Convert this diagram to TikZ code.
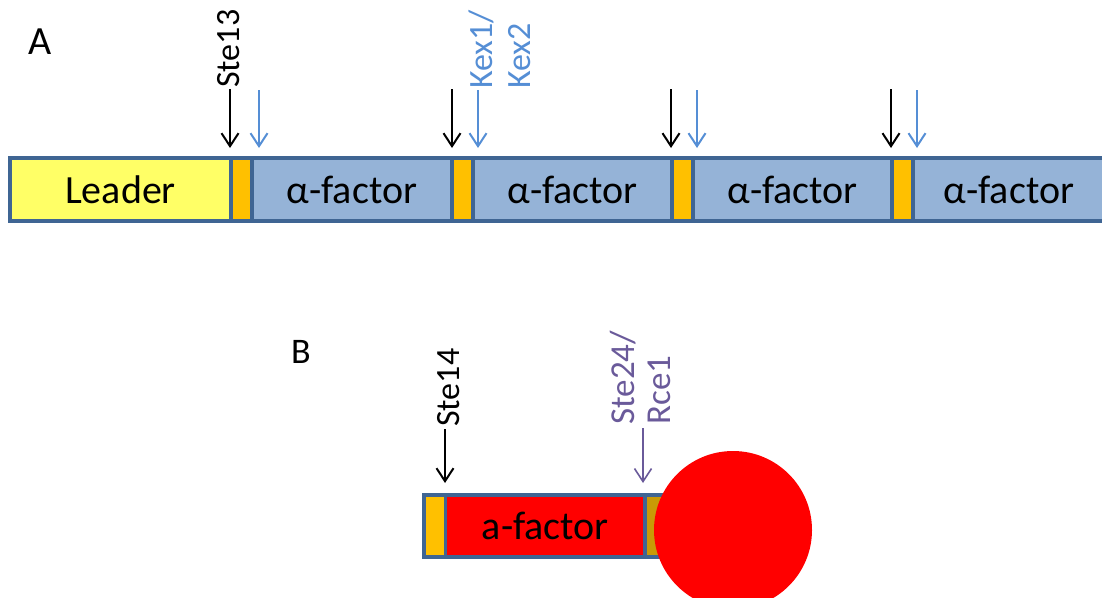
\documentclass[tikz,border=0pt]{standalone}
\usepackage{fontspec}
\setmainfont{Carlito}
\usetikzlibrary{arrows.meta}
\definecolor{edgeblue}{HTML}{3F6593}
\definecolor{segblue}{HTML}{95B3D7}
\definecolor{leadyellow}{HTML}{FFFF66}
\definecolor{spacer}{HTML}{FFC000}
\definecolor{spacergold}{HTML}{C99A06}
\definecolor{kexblue}{HTML}{558ED5}
\definecolor{ste24purple}{HTML}{6A5A9A}
\definecolor{afred}{HTML}{FF0000}
\begin{document}
\begin{tikzpicture}[x=1pt,y=-1pt,
  seg/.style={draw=edgeblue, line width=3.5pt, minimum height=63pt, inner sep=0pt,
    font=\fontsize{40}{48}\selectfont, text=black},
  cut/.style={-{Straight Barb[length=13pt,width=17pt]}, line width=2pt},
  enz/.style={rotate=90, anchor=west, inner sep=0pt, align=left,
    font=\fontsize{34}{38}\selectfont},
  panel/.style={font=\fontsize{40}{48}\selectfont, inner sep=0pt}]
\useasboundingbox (0,0) rectangle (1102,597);

% ---- Panel A ----
\node[panel] (A) at (40,42) {A};
\node[seg, fill=leadyellow, minimum width=221pt] (lead) at (120.5,189.5) {Leader};
\node[seg, fill=spacer, minimum width=21pt] (o1) at (241.5,189.5) {};
\node[seg, fill=segblue, minimum width=200pt] (f1) at (352,189.5) {α-factor};
\node[seg, fill=spacer, minimum width=21pt] (o2) at (462.5,189.5) {};
\node[seg, fill=segblue, minimum width=199pt] (f2) at (572.5,189.5) {α-factor};
\node[seg, fill=spacer, minimum width=21pt] (o3) at (682.5,189.5) {};
\node[seg, fill=segblue, minimum width=199pt] (f3) at (792.5,189.5) {α-factor};
\node[seg, fill=spacer, minimum width=21pt] (o4) at (902.5,189.5) {};
\node[seg, fill=segblue, minimum width=192pt] (f4) at (1009,189.5) {α-factor};

\node[enz] (ste13) at (229,88) {Ste13};
\node[enz, text=kexblue] (kex) at (500,89) {Kex1/\\Kex2};

\foreach \i/\bx/\kx in {1/230/259, 2/452/478, 3/671/697, 4/891/917}{
  \coordinate (bt\i) at (\bx,89);
  \coordinate (bh\i) at (\bx,148);
  \coordinate (kt\i) at (\kx,90);
  \coordinate (kh\i) at (\kx,148);
  \draw[cut, black] (bt\i) -- (bh\i);
  \draw[cut, kexblue] (kt\i) -- (kh\i);
}

% ---- Panel B ----
\node[panel, font=\fontsize{36}{44}\selectfont] (B) at (301,352) {B};
\node[seg, fill=spacer, minimum width=21.5pt, minimum height=62pt] (ob) at (434.75,526) {};
\node[seg, fill=afred, minimum width=199.5pt, minimum height=62pt] (af) at (545.25,526) {a-factor};
\node[seg, fill=spacergold, minimum width=75pt, minimum height=62pt] (gb) at (682.5,526) {};
\node[circle, fill=afred, minimum size=158pt, inner sep=0pt] (ball) at (733,530) {};

\node[enz] (ste14) at (449,427) {Ste14};
\node[enz, text=ste24purple, font=\fontsize{35}{36}\selectfont] (ste24) at (640,425) {Ste24/\\Rce1};

\coordinate (s14t) at (445,429);
\coordinate (s14h) at (445,483);
\coordinate (s24t) at (643,428);
\coordinate (s24h) at (643,483);
\draw[cut, black] (s14t) -- (s14h);
\draw[cut, ste24purple, line width=1.6pt] (s24t) -- (s24h);
\end{tikzpicture}
\end{document}
